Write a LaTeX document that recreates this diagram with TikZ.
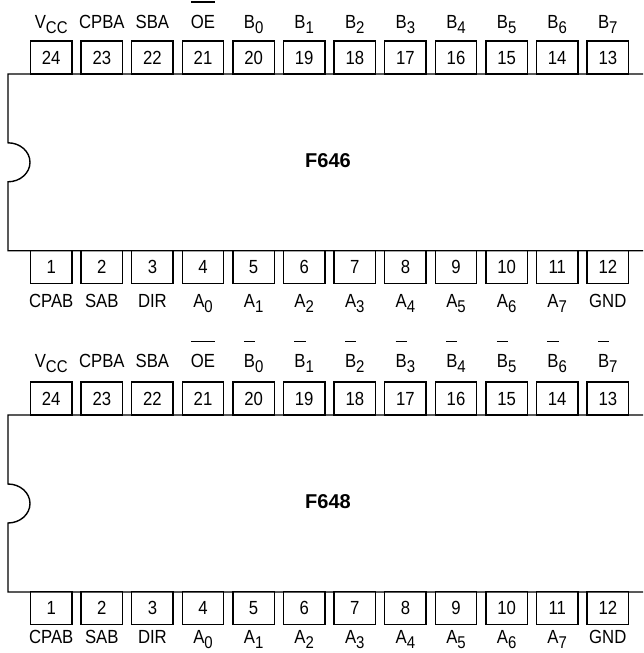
\documentclass[tikz,border=0pt]{standalone}
\usepackage{fontspec}
\setmainfont{Liberation Sans}
\newfontfamily\pinfont[FakeStretch=0.88]{Liberation Sans}
\newcommand\sub[1]{\raisebox{-5pt}{\fontsize{17}{17}\selectfont #1}}
\newsavebox\ovlbox
\newcommand\ovl[1]{\sbox\ovlbox{#1}\rlap{\rule[25.5pt]{\wd\ovlbox}{1.1pt}}\usebox\ovlbox}
\tikzset{
  pin/.style={draw, line width=1.4pt, minimum width=41.5pt, minimum height=33pt, inner sep=0pt,
    text height=13pt, text depth=0pt, font=\pinfont\fontsize{19}{19}\selectfont},
  pinlabel/.style={anchor=base, inner sep=0pt, font=\pinfont\fontsize{19}{19}\selectfont},
  chipname/.style={anchor=base, inner sep=0pt, font=\fontsize{20}{20}\selectfont\bfseries},
  body/.style={line width=1.4pt}
}
\begin{document}
\begin{tikzpicture}[x=1pt,y=-1pt]
\useasboundingbox (0,0) rectangle (643,653);
% F646
\draw[body] (643,74) -- (8,74) -- (8,142.8) arc[start angle=-90,end angle=90,x radius=22,y radius=19.5] -- (8,250.7) -- (643,250.7);
\node[chipname] (f646) at (328,167) {F646};
\foreach \n/\lbl [count=\k from 0] in {24/V\sub{CC},23/CPBA,22/SBA,21/\ovl{OE},20/B\sub{0},19/B\sub{1},18/B\sub{2},17/B\sub{3},16/B\sub{4},15/B\sub{5},14/B\sub{6},13/B\sub{7}}{
  \node[pin] (f646p\n) at (51.2+50.6*\k,57.5) {\n};
  \node[pinlabel] (f646l\n) at (51.2+50.6*\k,28) {\lbl};
}
\foreach \n/\lbl [count=\k from 0] in {1/CPAB,2/SAB,3/DIR,4/A\sub{0},5/A\sub{1},6/A\sub{2},7/A\sub{3},8/A\sub{4},9/A\sub{5},10/A\sub{6},11/A\sub{7},12/GND}{
  \node[pin] (f646p\n) at (51.2+50.6*\k,267) {\n};
  \node[pinlabel] (f646l\n) at (51.2+50.6*\k,307.5) {\lbl};
}
% F648
\draw[body] (643,415) -- (8,415) -- (8,484) arc[start angle=-90,end angle=90,x radius=22,y radius=19.5] -- (8,592) -- (643,592);
\node[chipname] (f648) at (328,508) {F648};
\foreach \n/\lbl [count=\k from 0] in {24/V\sub{CC},23/CPBA,22/SBA,21/\ovl{OE},20/\ovl{B}\sub{0},19/\ovl{B}\sub{1},18/\ovl{B}\sub{2},17/\ovl{B}\sub{3},16/\ovl{B}\sub{4},15/\ovl{B}\sub{5},14/\ovl{B}\sub{6},13/\ovl{B}\sub{7}}{
  \node[pin] (f648p\n) at (51.2+50.6*\k,398.5) {\n};
  \node[pinlabel] (f648l\n) at (51.2+50.6*\k,367.5) {\lbl};
}
\foreach \n/\lbl [count=\k from 0] in {1/CPAB,2/SAB,3/DIR,4/A\sub{0},5/A\sub{1},6/A\sub{2},7/A\sub{3},8/A\sub{4},9/A\sub{5},10/A\sub{6},11/A\sub{7},12/GND}{
  \node[pin] (f648p\n) at (51.2+50.6*\k,608) {\n};
  \node[pinlabel] (f648l\n) at (51.2+50.6*\k,643.5) {\lbl};
}
\end{tikzpicture}
\end{document}
